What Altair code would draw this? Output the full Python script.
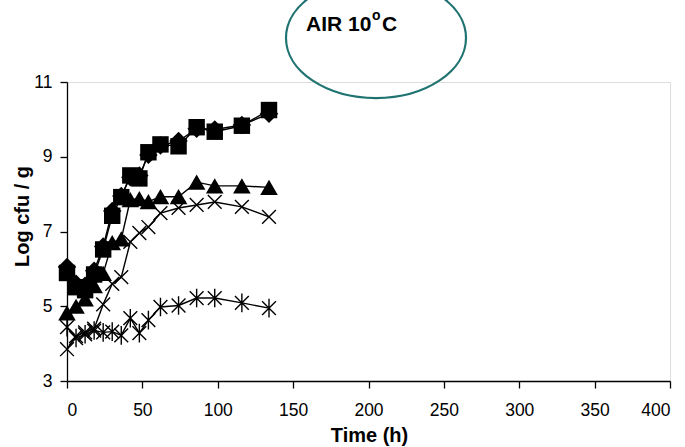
import altair as alt
import pandas as pd

# ---- data ----
time_h = [0, 6, 12, 18, 24, 30, 36, 42, 48, 54, 62, 74, 86, 98, 116, 134]

series_square = [5.89, 5.51, 5.43, 5.85, 6.52, 7.42, 7.92, 8.50, 8.42, 9.12, 9.33, 9.28, 9.79, 9.67, 9.83, 10.25]
series_diamond = [6.05, 5.60, 5.55, 5.95, 6.60, 7.55, 7.95, 8.45, 8.50, 9.05, 9.30, 9.42, 9.75, 9.73, 9.85, 10.15]
series_triangle = [4.82, 5.00, 5.20, 5.55, 5.88, 6.70, 6.80, 7.85, 7.88, 7.80, 7.93, 7.93, 8.32, 8.22, 8.22, 8.18]
series_cross = [3.85, 4.20, 4.30, 4.40, 5.05, 5.60, 5.78, 6.72, 6.96, 7.12, 7.49, 7.63, 7.71, 7.79, 7.66, 7.39]
series_star = [4.44, 4.15, 4.25, 4.35, 4.30, 4.32, 4.22, 4.68, 4.28, 4.63, 4.98, 5.02, 5.22, 5.22, 5.09, 4.95]

x_ticks = [0, 50, 100, 150, 200, 250, 300, 350, 400]
y_ticks = [3, 5, 7, 9, 11]

annotation_main = ["AIR 10"]
annotation_sup = ["o"]
annotation_unit = ["C"]

FONT = "Liberation Sans, Arial, sans-serif"

x_enc = alt.X(
    "time:Q",
    scale=alt.Scale(domain=[0, 400], nice=False, zero=False),
    axis=alt.Axis(
        values=x_ticks, title="Time (h)", grid=False, tickSize=7,
        labelPadding=13, labelFontSize=17.5, titleFontSize=20, titleFontWeight="bold",
        titleX=302, titleY=60, titleBaseline="alphabetic", titleAnchor=None,
        domainColor="black", tickColor="black", labelColor="black", titleColor="black",
        domainWidth=1.3, tickWidth=1.3, labelFont=FONT, titleFont=FONT,
    ),
)
y_enc = alt.Y(
    "value:Q",
    scale=alt.Scale(domain=[3, 11], nice=False, zero=False),
    axis=alt.Axis(
        values=y_ticks, title="Log cfu / g", grid=False, tickSize=7,
        labelPadding=8, labelFontSize=17.5, titleFontSize=20, titleFontWeight="bold",
        titleX=-39, titleY=134, titleAngle=270, titleAlign="center", titleBaseline="alphabetic",
        domainColor="black", tickColor="black", labelColor="black", titleColor="black",
        domainWidth=1.3, tickWidth=1.3, labelFont=FONT, titleFont=FONT,
    ),
)


def frame(values, name):
    return pd.DataFrame({"time": time_h, "value": values, "series": name})


def series_layer(values, name, point_kwargs):
    df = frame(values, name)
    base = alt.Chart(df).encode(x=x_enc, y=y_enc)
    line = base.mark_line(color="black", strokeWidth=1.4)
    pts = base.mark_point(opacity=1, **point_kwargs)
    return [line, pts]


X_PATH = "M-1,-1L1,1M-1,1L1,-1"
STAR_PATH = "M-1,-1L1,1M-1,1L1,-1M0,-1.35L0,1.35"
ELLIPSE_PATH = ("M-1,0 C-1,-0.368 -0.552,-0.667 0,-0.667 C0.552,-0.667 1,-0.368 1,0 "
                "C1,0.368 0.552,0.667 0,0.667 C-0.552,0.667 -1,0.368 -1,0 Z")

layers = []
layers += series_layer(series_star, "star", dict(shape=STAR_PATH, filled=False, color="black", strokeWidth=1.4, size=190))
layers += series_layer(series_cross, "cross", dict(shape=X_PATH, filled=False, color="black", strokeWidth=1.4, size=190))
layers += series_layer(series_triangle, "triangle", dict(shape="triangle-up", filled=True, color="black", size=310))
layers += series_layer(series_diamond, "diamond", dict(shape="diamond", filled=True, color="black", size=340))
layers += series_layer(series_square, "square", dict(shape="square", filled=True, color="black", size=270))

ellipse = alt.Chart(pd.DataFrame({"k": [1]})).mark_point(
    shape=ELLIPSE_PATH, filled=False, stroke="#1f7370", strokeWidth=2.2, opacity=1, size=32400
).encode(x=alt.value(309), y=alt.value(-44))

txt_main = alt.Chart(pd.DataFrame({"t": annotation_main})).mark_text(
    align="left", baseline="alphabetic", font=FONT, fontSize=21, fontWeight="bold", color="black"
).encode(x=alt.value(239), y=alt.value(-51), text="t:N")
txt_sup = alt.Chart(pd.DataFrame({"t": annotation_sup})).mark_text(
    align="left", baseline="alphabetic", font=FONT, fontSize=14, fontWeight="bold", color="black"
).encode(x=alt.value(305), y=alt.value(-62), text="t:N")
txt_unit = alt.Chart(pd.DataFrame({"t": annotation_unit})).mark_text(
    align="left", baseline="alphabetic", font=FONT, fontSize=21, fontWeight="bold", color="black"
).encode(x=alt.value(315), y=alt.value(-51), text="t:N")

chart = alt.layer(*layers, ellipse, txt_main, txt_sup, txt_unit).properties(
    width=603, height=299,
    autosize=alt.AutoSizeParams(type="none"),
    padding={"left": 67, "top": 82, "right": 15, "bottom": 66},
).configure_view(stroke=None).configure(background="white")

chart.save("out.html", embed_options={"renderer": "svg", "actions": False})
